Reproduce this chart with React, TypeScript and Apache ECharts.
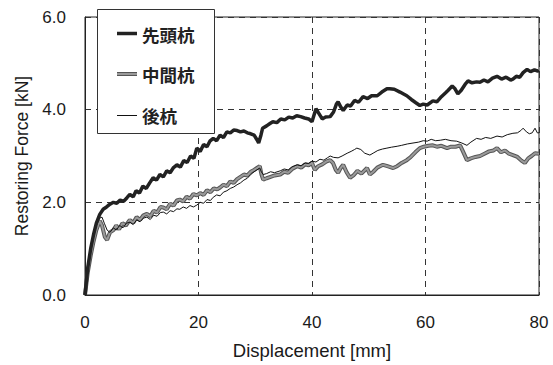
import React, { useEffect, useRef } from "react";
import * as echarts from "echarts";

const xTicks = [0, 20, 40, 60, 80];
const yTicks = [0, 2, 4, 6];
const seriesNames = ["先頭杭", "中間杭", "後杭"];

const leadPile: [number, number][] = [
  [0,0],[0.5,0.6],[1,1.0],[1.5,1.3],[2,1.55],[2.6,1.74],[3.2,1.85],[3.8,1.9],[4.4,1.96],[5,2.0],[5.6,1.98],[6.2,2.05],[6.8,2.02],[7.4,2.1],[7.9,2.17],[8.5,2.12],[9,2.25],[9.6,2.2],[10.2,2.35],[10.8,2.3],[11.4,2.42],[12,2.53],[12.6,2.48],[13.2,2.6],[13.8,2.55],[14.4,2.68],[15,2.64],[15.6,2.75],[16.2,2.81],[16.8,2.76],[17.4,2.9],[18,2.86],[18.6,3.0],[19.2,2.95],[19.7,3.17],[20.3,3.1],[20.9,3.25],[21.5,3.2],[22,3.32],[22.6,3.38],[23.2,3.33],[23.8,3.45],[24.4,3.4],[25,3.52],[25.6,3.5],[26.2,3.56],[26.8,3.55],[27.4,3.52],[28,3.54],[28.6,3.5],[29.2,3.48],[29.8,3.45],[30.3,3.35],[30.6,3.28],[31,3.45],[31.3,3.6],[32,3.65],[32.6,3.7],[33.1,3.74],[33.8,3.72],[34.5,3.8],[35.2,3.78],[35.9,3.84],[36.6,3.82],[37.3,3.87],[38,3.85],[38.7,3.82],[39.4,3.8],[40,3.74],[40.4,3.9],[40.7,4.02],[41.2,3.92],[41.8,3.8],[42.4,3.84],[43.2,3.85],[43.8,3.95],[44.3,4.12],[44.6,4.17],[45.1,4.05],[45.5,3.98],[46.2,4.1],[46.8,4.08],[47.5,4.2],[48.2,4.16],[49,4.28],[49.8,4.24],[50.5,4.3],[51.5,4.3],[52.3,4.38],[53.2,4.45],[53.7,4.45],[54.5,4.44],[55.5,4.38],[56.7,4.3],[57.5,4.22],[58.3,4.15],[59,4.09],[59.6,4.12],[60.3,4.1],[61.3,4.19],[62,4.17],[62.8,4.28],[63.5,4.36],[64,4.42],[64.7,4.51],[65.2,4.45],[65.7,4.34],[66.3,4.42],[67,4.55],[67.5,4.62],[68.2,4.58],[69,4.6],[69.6,4.59],[70.3,4.64],[71,4.6],[71.8,4.68],[72.6,4.72],[73.4,4.66],[74.2,4.7],[75,4.64],[75.4,4.66],[76,4.72],[76.6,4.7],[77.2,4.8],[77.9,4.87],[78.5,4.82],[79.2,4.86],[79.8,4.83],[80,4.85]
];

const middlePile: [number, number][] = [
  [0,0],[0.5,0.5],[1,0.85],[1.5,1.15],[2,1.4],[2.6,1.6],[3,1.5],[3.5,1.25],[3.9,1.19],[4.4,1.35],[5,1.4],[5.5,1.5],[6,1.42],[6.6,1.55],[7.2,1.5],[7.9,1.62],[8.5,1.56],[9.1,1.68],[9.7,1.62],[10.3,1.72],[10.9,1.75],[11.5,1.7],[12.1,1.82],[12.7,1.78],[13.3,1.9],[13.8,1.89],[14.4,1.85],[15,1.97],[15.6,1.93],[16.2,2.04],[16.7,2.06],[17.3,2.02],[17.9,2.12],[18.5,2.08],[19.1,2.18],[19.7,2.15],[20.3,2.2],[20.9,2.16],[21.5,2.26],[22.1,2.22],[22.7,2.3],[23.3,2.28],[23.8,2.32],[24.4,2.38],[25,2.35],[25.6,2.45],[26.2,2.42],[26.8,2.5],[27.4,2.55],[28,2.6],[28.6,2.58],[29.2,2.66],[29.8,2.7],[30.3,2.74],[30.8,2.78],[31.1,2.6],[31.4,2.49],[32,2.52],[32.7,2.55],[33.4,2.58],[34.4,2.6],[35.1,2.66],[35.8,2.64],[36.5,2.72],[37.4,2.78],[38.1,2.75],[38.8,2.82],[39.4,2.8],[40,2.85],[40.5,2.7],[41.1,2.78],[41.8,2.82],[42.5,2.88],[43.2,2.91],[43.7,2.85],[44.2,2.7],[44.6,2.64],[45.1,2.75],[45.5,2.81],[46.1,2.65],[46.7,2.53],[47.3,2.58],[48,2.68],[48.7,2.62],[49.7,2.74],[50.2,2.6],[50.8,2.66],[51.5,2.75],[52.5,2.81],[53.3,2.78],[54.3,2.74],[55,2.78],[55.8,2.85],[56.7,2.91],[57.4,2.98],[58.2,3.08],[59,3.17],[59.7,3.2],[60.5,3.22],[61.3,3.23],[62,3.2],[62.8,3.22],[63.8,3.17],[64.5,3.2],[65.3,3.2],[66.1,3.23],[66.6,3.1],[67.3,2.91],[68,2.95],[68.8,2.98],[69.6,3.0],[70.4,3.05],[71.2,3.1],[72,3.12],[72.6,3.17],[73.3,3.08],[74,3.12],[74.7,3.05],[75.4,3.02],[76.2,2.98],[76.9,2.9],[77.5,2.85],[78.1,2.95],[78.7,3.0],[79.3,3.06],[80,3.05]
];

const rearPile: [number, number][] = [
  [0,0],[0.5,0.55],[1,0.95],[1.5,1.25],[2,1.5],[2.6,1.66],[3,1.68],[3.4,1.55],[3.9,1.4],[4.4,1.35],[5,1.45],[5.5,1.4],[6.1,1.5],[6.7,1.45],[7.3,1.55],[7.9,1.57],[8.5,1.52],[9.1,1.62],[9.7,1.58],[10.3,1.66],[10.9,1.68],[11.5,1.63],[12.1,1.72],[12.7,1.7],[13.3,1.78],[13.8,1.79],[14.4,1.75],[15,1.82],[15.6,1.8],[16.2,1.86],[16.7,1.85],[17.3,1.9],[17.9,1.87],[18.5,1.93],[19.1,1.9],[19.7,1.94],[20.3,2.0],[20.9,1.98],[21.5,2.06],[22.1,2.04],[22.6,2.11],[23.2,2.16],[23.8,2.14],[24.4,2.22],[25,2.25],[25.6,2.3],[26.2,2.33],[26.8,2.38],[27.4,2.42],[28,2.48],[28.6,2.52],[29.2,2.6],[29.8,2.66],[30.3,2.7],[30.8,2.74],[31.1,2.65],[31.4,2.6],[32,2.62],[32.7,2.66],[33.4,2.64],[34.4,2.68],[35.1,2.72],[35.8,2.7],[36.5,2.77],[37.4,2.81],[38.1,2.79],[38.8,2.85],[39.4,2.84],[40,2.89],[40.7,2.87],[41.4,2.93],[42.1,2.91],[42.7,2.96],[43.2,3.0],[43.8,2.97],[44.6,2.96],[45.3,3.0],[46.2,3.06],[46.9,3.1],[47.5,3.14],[47.9,3.17],[48.6,3.14],[49.3,3.06],[50.2,3.02],[50.9,3.07],[51.6,3.12],[52.4,3.15],[53.2,3.17],[54,3.19],[55,3.21],[55.8,3.23],[56.8,3.26],[57.8,3.28],[58.8,3.3],[59.6,3.33],[60.3,3.32],[61,3.36],[61.8,3.33],[62.6,3.34],[63.5,3.36],[64.5,3.33],[65.5,3.32],[66.4,3.28],[67.3,3.23],[68,3.3],[69,3.38],[69.8,3.36],[70.6,3.4],[71.5,3.38],[72.6,3.43],[73.5,3.41],[74.4,3.46],[75.4,3.49],[76.2,3.5],[76.8,3.55],[77.2,3.6],[77.8,3.52],[78.3,3.48],[78.8,3.5],[79.3,3.6],[79.7,3.5],[80,3.5]
];

const FONT = "'Liberation Sans', Arial, sans-serif";
const CJK = "'Noto Sans CJK JP', sans-serif";

export default function App() {
  const ref = useRef<HTMLDivElement>(null);
  useEffect(() => {
    if (!ref.current) return;
    const chart = echarts.init(ref.current, undefined, { renderer: "svg" });
    const legendRows = [34, 74, 115];
    const legendText = (name: string, y: number) => ({
      type: "text",
      x: 142,
      y,
      z: 101,
      style: {
        text: name,
        fontFamily: CJK,
        fontSize: 17.5,
        fontWeight: "bold",
        fill: "#222",
        verticalAlign: "middle",
        align: "left",
      },
    });
    chart.setOption({
      animation: false,
      backgroundColor: "#ffffff",
      grid: {
        left: 85, right: 14, top: 17, bottom: 66,
        show: true, borderColor: "#222", borderWidth: 1,
      },
      legend: { show: false },
      graphic: [
        {
          type: "rect",
          shape: { x: 97.5, y: 9.5, width: 117, height: 124 },
          style: { fill: "#fff", stroke: "#333", lineWidth: 1 },
          z: 100,
        },
        {
          type: "line",
          shape: { x1: 117, y1: legendRows[0] - 0.5, x2: 137, y2: legendRows[0] - 0.5 },
          style: { stroke: "#222", lineWidth: 3.5 },
          z: 101,
        },
        {
          type: "line",
          shape: { x1: 117, y1: legendRows[1], x2: 137, y2: legendRows[1] },
          style: { stroke: "#555", lineWidth: 4 },
          z: 101,
        },
        {
          type: "line",
          shape: { x1: 117, y1: legendRows[1], x2: 137, y2: legendRows[1] },
          style: { stroke: "#9a9a9a", lineWidth: 2 },
          z: 102,
        },
        {
          type: "line",
          shape: { x1: 117, y1: legendRows[2] + 0.5, x2: 137, y2: legendRows[2] + 0.5 },
          style: { stroke: "#111", lineWidth: 1 },
          z: 101,
        },
        legendText(seriesNames[0], legendRows[0]),
        legendText(seriesNames[1], legendRows[1]),
        legendText(seriesNames[2], legendRows[2]),
      ],
      xAxis: {
        type: "value",
        min: 0, max: 80, interval: 20,
        name: "Displacement [mm]",
        nameLocation: "middle",
        nameGap: 46,
        nameTextStyle: { fontFamily: FONT, fontSize: 18.5, color: "#1a1a1a" },
        axisLine: { show: true, lineStyle: { color: "#222", width: 1 } },
        axisTick: { show: false },
        axisLabel: {
          fontFamily: FONT, fontSize: 17, color: "#1a1a1a", margin: 19,
          formatter: (v: number) => (xTicks.includes(v) ? String(v) : ""),
        },
        splitLine: { show: true, lineStyle: { color: "#333", type: [6, 5], width: 1 } },
      },
      yAxis: {
        type: "value",
        min: 0, max: 6, interval: 2,
        name: "Restoring Force [kN]",
        nameLocation: "middle",
        nameGap: 52,
        nameTextStyle: { fontFamily: FONT, fontSize: 17.5, color: "#1a1a1a" },
        axisLine: { show: true, lineStyle: { color: "#222", width: 1 } },
        axisTick: { show: false },
        axisLabel: {
          fontFamily: FONT, fontSize: 17, color: "#1a1a1a", margin: 19,
          formatter: (v: number) => (yTicks.includes(v) ? v.toFixed(1) : ""),
        },
        splitLine: { show: true, lineStyle: { color: "#333", type: [6, 5], width: 1 } },
      },
      series: [
        {
          name: "中間杭-outline",
          type: "line",
          data: middlePile,
          symbol: "none",
          lineStyle: { color: "#555", width: 4 },
          silent: true,
          z: 2,
        },
        {
          name: seriesNames[1],
          type: "line",
          data: middlePile,
          symbol: "none",
          lineStyle: { color: "#9a9a9a", width: 2 },
          z: 3,
        },
        {
          name: seriesNames[2],
          type: "line",
          data: rearPile,
          symbol: "none",
          lineStyle: { color: "#111", width: 1 },
          z: 4,
        },
        {
          name: seriesNames[0],
          type: "line",
          data: leadPile,
          symbol: "none",
          lineStyle: { color: "#222", width: 3.5 },
          z: 5,
        },
      ],
    });
    return () => chart.dispose();
  }, []);
  return (
    <div
      ref={ref}
      style={{ position: "fixed", left: 0, top: 0, width: 553, height: 365, background: "#fff" }}
    />
  );
}
